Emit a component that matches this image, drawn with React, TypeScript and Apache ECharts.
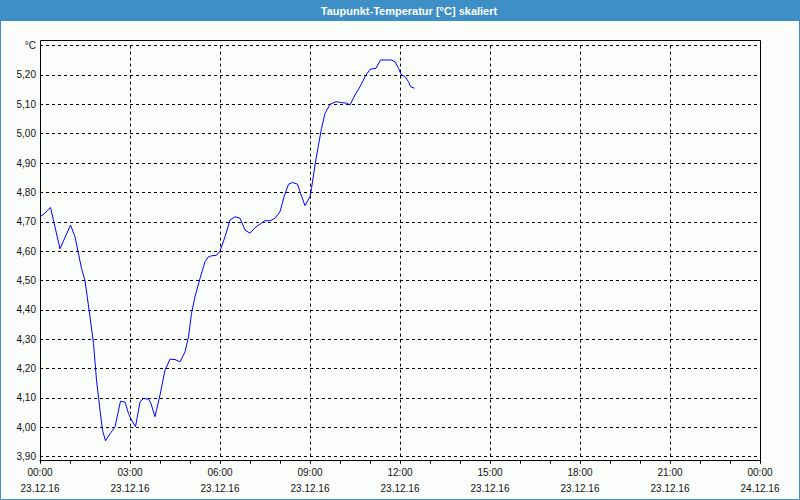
import React, { useEffect, useRef } from "react";
import * as echarts from "echarts";

const TITLE = "Taupunkt-Temperatur [°C] skaliert";

const times: string[] = [
  "00:00", "00:08", "00:21", "00:40", "01:01", "01:10", "01:23", "01:30", "01:40", "01:47",
  "01:53", "02:00", "02:05", "02:11", "02:20", "02:30", "02:41", "02:50", "02:57", "03:03",
  "03:11", "03:20", "03:27", "03:37", "03:42", "03:50", "04:00", "04:10", "04:20", "04:30",
  "04:40", "04:50", "04:57", "05:03", "05:10", "05:20", "05:30", "05:37", "05:43", "05:53",
  "06:00", "06:10", "06:20", "06:30", "06:40", "06:50", "07:00", "07:10", "07:20", "07:30",
  "07:40", "07:50", "08:00", "08:08", "08:17", "08:25", "08:35", "08:41", "08:50", "09:00",
  "09:03", "09:10", "09:17", "09:23", "09:30", "09:40", "09:52", "10:03", "10:13", "10:20",
  "10:30", "10:40", "10:50", "11:00", "11:12", "11:21", "11:33", "11:43", "11:50", "11:57",
  "12:02", "12:10", "12:17", "12:21", "12:29",
];

const values: number[] = [
  4.717, 4.727, 4.749, 4.608, 4.689, 4.649, 4.541, 4.5, 4.376, 4.286,
  4.161, 4.059, 3.99, 3.954, 3.978, 4.002, 4.089, 4.086, 4.047, 4.025,
  4.002, 4.087, 4.098, 4.096, 4.081, 4.036, 4.11, 4.195, 4.232, 4.231,
  4.223, 4.257, 4.308, 4.388, 4.445, 4.507, 4.564, 4.581, 4.584, 4.586,
  4.6, 4.649, 4.706, 4.717, 4.712, 4.672, 4.661, 4.68, 4.692, 4.704,
  4.703, 4.712, 4.734, 4.785, 4.828, 4.834, 4.828, 4.797, 4.755, 4.785,
  4.814, 4.893, 4.962, 5.018, 5.069, 5.1, 5.109, 5.106, 5.104, 5.098,
  5.132, 5.16, 5.194, 5.219, 5.223, 5.251, 5.251, 5.251, 5.245, 5.223,
  5.202, 5.194, 5.177, 5.16, 5.155,
];

const X_MIN = 0;
const X_MAX = 24;
const X_STEP = 3;
const Y_MIN = 3.9;
const Y_MAX = 5.3;
const Y_STEP = 0.1;
const DATE_DAY1 = "23.12.16";
const DATE_DAY2 = "24.12.16";
const UNIT = "°C";

function toHours(t: string): number {
  const [h, m] = t.split(":").map(Number);
  return h + m / 60;
}

export default function App() {
  const ref = useRef<HTMLDivElement>(null);

  useEffect(() => {
    if (!ref.current) return;
    const chart = echarts.init(ref.current, undefined, { renderer: "svg" });
    const blue = "#3d8fc6";
    const font = "'Liberation Sans', Arial, sans-serif";
    const data = times.map((t, i) => [toHours(t), values[i]]);

    chart.setOption({
      animation: false,
      backgroundColor: "#fbfdfb",
      grid: { left: 40, right: 40, top: 45.6, bottom: 43.3, containLabel: false },
      xAxis: {
        type: "value",
        min: X_MIN,
        max: X_MAX,
        interval: X_STEP,
        offset: 4,
        axisLine: { show: true, lineStyle: { color: "#000", width: 1 } },
        axisTick: { show: true, length: 3, lineStyle: { color: "#000" } },
        minorTick: { show: true, splitNumber: 3, length: 3, lineStyle: { color: "#000" } },
        splitLine: { show: true, lineStyle: { color: "#000", type: [3, 3], width: 1 } },
        axisLabel: {
          color: "#111",
          fontFamily: font,
          fontSize: 10,
          margin: 4,
          lineHeight: 16,
          formatter: (v: number) => {
            const h = Math.round(v) % 24;
            const hh = (h < 10 ? "0" : "") + h + ":00";
            return hh + "\n" + (v >= 24 ? DATE_DAY2 : DATE_DAY1);
          },
        },
      },
      yAxis: {
        type: "value",
        min: Y_MIN,
        max: Y_MAX,
        interval: Y_STEP,
        axisLine: { show: false },
        axisTick: { show: false },
        splitLine: { show: true, lineStyle: { color: "#000", type: [3, 3], width: 1 } },
        axisLabel: {
          color: "#111",
          fontFamily: font,
          fontSize: 10,
          margin: 4,
          formatter: (v: number) =>
            v >= Y_MAX - 0.005 ? UNIT : v.toFixed(2).replace(".", ","),
        },
      },
      series: [
        {
          type: "line",
          data,
          showSymbol: false,
          symbol: "none",
          smooth: false,
          lineStyle: { color: "#0000ff", width: 1 },
          z: 5,
        },
      ],
      graphic: [
        {
          type: "rect",
          shape: { x: 0, y: 0, width: 800, height: 21 },
          style: { fill: blue },
          z: 20,
        },
        {
          type: "text",
          x: 409,
          y: 10.5,
          style: {
            text: TITLE,
            fill: "#ffffff",
            font: "bold 11px 'Liberation Sans', Arial, sans-serif",
            textAlign: "center",
            textVerticalAlign: "middle",
          },
          z: 21,
        },
        {
          type: "rect",
          shape: { x: 0.5, y: 0.5, width: 799, height: 499 },
          style: { fill: "none", stroke: blue, lineWidth: 1 },
          z: 20,
        },
        {
          type: "rect",
          shape: { x: 40.5, y: 40.5, width: 720, height: 420 },
          style: { fill: "none", stroke: "#000", lineWidth: 1 },
          z: 20,
        },
      ],
    });

    return () => chart.dispose();
  }, []);

  return (
    <div
      ref={ref}
      style={{ position: "fixed", left: 0, top: 0, width: 800, height: 500 }}
    />
  );
}
